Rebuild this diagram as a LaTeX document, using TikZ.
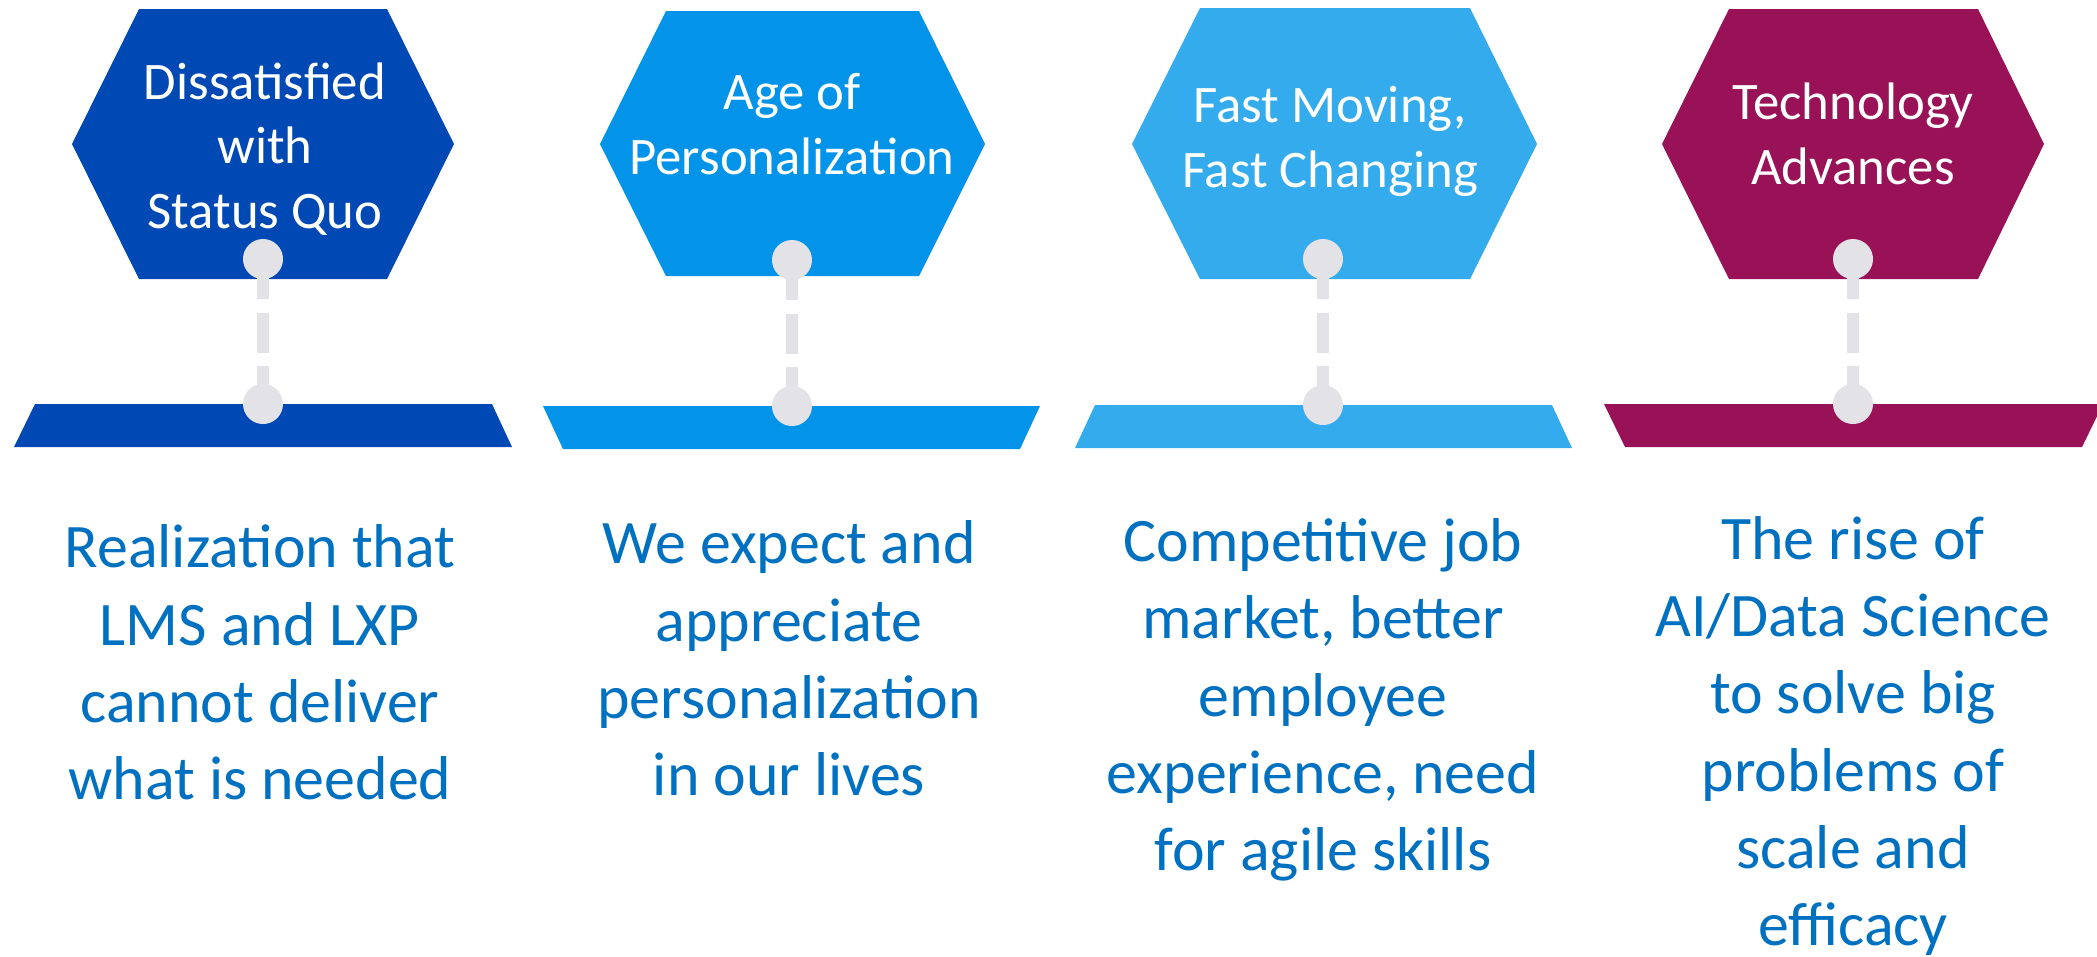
\documentclass[tikz,border=0pt]{standalone}
\usepackage{fontspec}
\setmainfont{Carlito}
\usepackage{tikz}
\usetikzlibrary{positioning}

\definecolor{navyblue}{RGB}{0,72,180}
\definecolor{midblue}{RGB}{3,148,234}
\definecolor{skyblue}{RGB}{51,171,237}
\definecolor{plum}{RGB}{153,17,87}
\definecolor{pingrey}{RGB}{226,226,231}
\definecolor{textblue}{RGB}{0,112,192}

\tikzset{
  headtext/.style={anchor=base, inner sep=0pt, align=center, text=white,
    font=\fontsize{15}{18.3}\selectfont},
  bodytext/.style={anchor=base, inner sep=0pt, align=center, text=textblue,
    font=\fontsize{17.6}{21.9}\selectfont},
  pinhead/.style={circle, fill=pingrey, inner sep=0pt, minimum size=0.4cm},
  stem/.style={draw=pingrey, line width=0.12cm, dash pattern=on 0.4cm off 0.135cm}
}

\begin{document}
\begin{tikzpicture}[x=0.01cm, y=-0.01cm]
        \useasboundingbox (0,0) rectangle (2097,956);

        % Hexagons (text anchored at the last line)
        \fill[navyblue] (139,9) -- (387,9) -- (454,144) -- (387,279) -- (139,279) -- (72,144) -- cycle;
        \fill[midblue] (666,11) -- (919,11) -- (985,144) -- (919,276) -- (666,276) -- (600,144) -- cycle;
        \fill[skyblue] (1200,8) -- (1470,8) -- (1537,144) -- (1470,279) -- (1200,279) -- (1132,144) -- cycle;
        \fill[plum] (1729,9) -- (1978,9) -- (2044,144) -- (1978,279) -- (1729,279) -- (1662,144) -- cycle;

        \node[headtext] (quo) at (265,228) {Dissatisfied\\with\\Status Quo};
        \node[headtext] (pers) at (792,174) {Age of\\Personalization};
        \node[headtext] (fast) at (1330,187) {Fast Moving,\\Fast Changing};
        \node[headtext] (tech) at (1853,184) {Technology\\Advances};

        % Bars
        \fill[navyblue] (35,404) -- (492,404) -- (512,447) -- (14,447) -- cycle;
        \fill[midblue] (543,406) -- (1040,406) -- (1020,449) -- (563,449) -- cycle;
        \fill[skyblue] (1095,405) -- (1552,405) -- (1572,448) -- (1075,448) -- cycle;
        \fill[plum] (1604,404) -- (2103,404) -- (2082,447) -- (1625,447) -- cycle;

        % Pins
        \coordinate (quo-top) at (263,259);
        \coordinate (quo-bot) at (263,404);
        \coordinate (pers-top) at (792,260);
        \coordinate (pers-bot) at (792,406);
        \coordinate (fast-top) at (1323,259);
        \coordinate (fast-bot) at (1323,405);
        \coordinate (tech-top) at (1853,259);
        \coordinate (tech-bot) at (1853,404);

        \draw[stem] (quo-top) -- (quo-bot);
        \draw[stem] (pers-top) -- (pers-bot);
        \draw[stem] (fast-top) -- (fast-bot);
        \draw[stem] (tech-top) -- (tech-bot);

        \node[pinhead] at (quo-top) {};
        \node[pinhead] at (quo-bot) {};
        \node[pinhead] at (pers-top) {};
        \node[pinhead] at (pers-bot) {};
        \node[pinhead] at (fast-top) {};
        \node[pinhead] at (fast-bot) {};
        \node[pinhead] at (tech-top) {};
        \node[pinhead] at (tech-bot) {};

        % Descriptions
        \node[bodytext] (quo-txt) at (260,799) {Realization that\\LMS and LXP\\cannot deliver\\what is needed};
        \node[bodytext] (pers-txt) at (789,795) {We expect and\\appreciate\\personalization\\in our lives};
        \node[bodytext] (fast-txt) at (1323,870) {Competitive job\\market, better\\employee\\experience, need\\for agile skills};
        \node[bodytext] (tech-txt) at (1853,945) {The rise of\\AI/Data Science\\to solve big\\problems of\\scale and\\efficacy};
    \end{tikzpicture}
\end{document}
